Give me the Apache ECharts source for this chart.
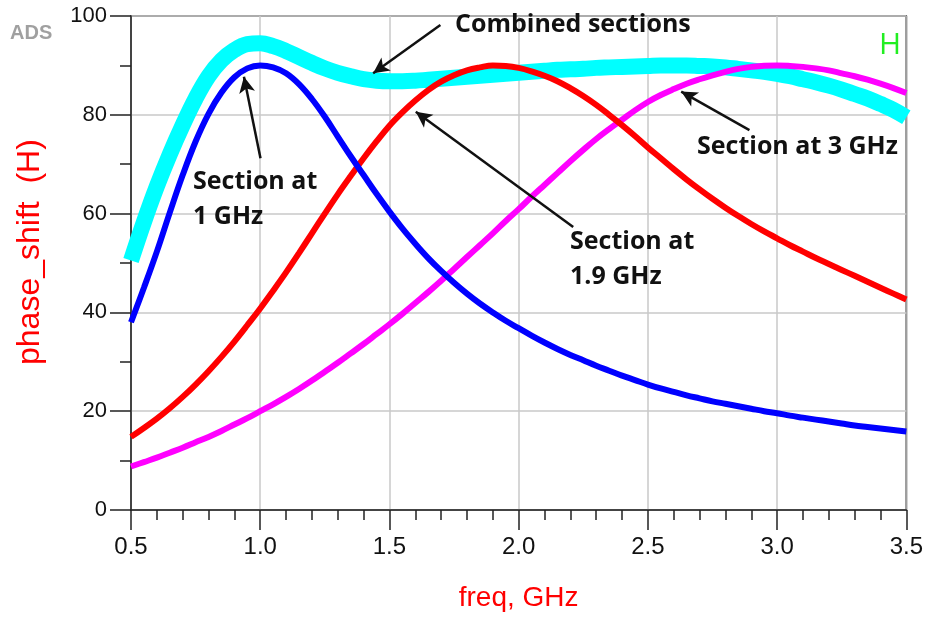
<!DOCTYPE html>
<html>
<head>
<meta charset="utf-8">
<script src="https://cdn.jsdelivr.net/npm/echarts@6/dist/echarts.min.js"></script>
<style>
  html, body { margin: 0; padding: 0; background: #fff; }
  #chart { width: 926px; height: 620px; }
</style>
</head>
<body>
<div id="chart"></div>
<script>
// frequency points, GHz
const freq = [0.5, 0.55, 0.6, 0.65, 0.7, 0.75, 0.8, 0.85, 0.9, 0.95,
  1.0, 1.05, 1.1, 1.15, 1.2, 1.25, 1.3, 1.35, 1.4, 1.45,
  1.5, 1.55, 1.6, 1.65, 1.7, 1.75, 1.8, 1.85, 1.9, 1.95,
  2.0, 2.05, 2.1, 2.15, 2.2, 2.25, 2.3, 2.35, 2.4, 2.45,
  2.5, 2.55, 2.6, 2.65, 2.7, 2.75, 2.8, 2.85, 2.9, 2.95,
  3.0, 3.05, 3.1, 3.15, 3.2, 3.25, 3.3, 3.35, 3.4, 3.45, 3.5];

// section at 1 GHz
const sec1 = [38, 45, 52.3, 60.2, 67.8, 74.6, 80.2, 84.5, 87.6, 89.4,
  90, 89.6, 88.4, 86.2, 83.2, 79.6, 75.6, 71.6, 67.8, 64.0,
  60.4, 57.0, 53.9, 51.0, 48.4, 46.0, 43.8, 41.8, 40.0, 38.3,
  36.8, 35.3, 33.9, 32.6, 31.4, 30.3, 29.2, 28.2, 27.2, 26.3,
  25.4, 24.6, 23.9, 23.2, 22.6, 22.0, 21.5, 21.0, 20.5, 20.0,
  19.6, 19.1, 18.7, 18.3, 17.9, 17.5, 17.1, 16.8, 16.5, 16.2, 15.9];

// section at 1.9 GHz
const sec19 = [14.8, 16.6, 18.5, 20.6, 22.9, 25.4, 28.1, 31.0, 34.1, 37.4,
  40.8, 44.4, 48.1, 52.0, 56.0, 60.0, 63.9, 67.6, 71.2, 74.6,
  77.8, 80.5, 82.9, 85.0, 86.7, 88.0, 89.0, 89.6, 90.0, 89.9,
  89.5, 88.8, 87.9, 86.8, 85.4, 83.8, 82.0, 80.0, 77.9, 75.7,
  73.4, 71.2, 69.0, 66.9, 64.9, 63.0, 61.2, 59.5, 57.9, 56.4,
  55.0, 53.6, 52.3, 51.0, 49.8, 48.6, 47.4, 46.2, 45.0, 43.8, 42.6];

// section at 3 GHz
const sec3 = [8.8, 9.7, 10.6, 11.6, 12.6, 13.7, 14.8, 16.0, 17.3, 18.6,
  20.0, 21.4, 22.9, 24.5, 26.2, 28.0, 29.8, 31.7, 33.6, 35.6,
  37.6, 39.7, 41.9, 44.1, 46.4, 48.8, 51.2, 53.6, 56.0, 58.5,
  60.9, 63.4, 65.8, 68.2, 70.6, 72.9, 75.1, 77.1, 79.0, 80.9,
  82.6, 84.0, 85.2, 86.3, 87.2, 88.0, 88.7, 89.3, 89.7, 89.95,
  90.0, 89.9, 89.7, 89.4, 89.0, 88.4, 87.8, 87.1, 86.3, 85.4, 84.4];

// combined sections
const combined = [50.5, 58.3, 65.5, 72.0, 77.9, 83.3, 87.8, 91.0, 93.1, 94.3,
  94.5, 93.9, 92.9, 91.7, 90.5, 89.4, 88.5, 87.8, 87.2, 86.9,
  86.8, 86.8, 86.9, 87.1, 87.3, 87.5, 87.7, 87.9, 88.1, 88.3,
  88.5, 88.7, 88.9, 89.1, 89.2, 89.3, 89.5, 89.6, 89.7, 89.8,
  89.9, 90.0, 90.0, 90.0, 89.9, 89.8, 89.6, 89.3, 89.0, 88.7,
  88.3, 87.8, 87.2, 86.6, 85.9, 85.1, 84.2, 83.3, 82.2, 81.0, 79.5];

// annotation arrows, tail -> head, in data units
const arrows = [
  [[1.697, 98.2], [1.437, 88.4]],
  [[1.001, 71.2], [0.937, 87.7]],
  [[2.211, 57.3], [1.602, 80.6]],
  [[2.893, 76.9], [2.629, 84.7]]
];

function pairs(ys) {
  return freq.map((f, i) => [f, ys[i]]);
}

const chart = echarts.init(document.getElementById('chart'));

const noteStyle = { fontFamily: 'Open Sans', fontSize: 25, fontWeight: 'bold', fill: '#111', verticalAlign: 'middle', lineHeight: 35 };

chart.setOption({
  animation: false,
  backgroundColor: '#fff',
  grid: {
    left: 131, right: 17, top: 16, bottom: 110,
    show: true, borderColor: '#222', borderWidth: 1.5
  },
  xAxis: {
    type: 'value',
    min: 0.5, max: 3.5, interval: 0.5,
    name: 'freq, GHz',
    nameLocation: 'middle',
    nameGap: 74,
    nameTextStyle: { color: '#ff0000', fontFamily: 'Liberation Sans', fontSize: 28 },
    axisLine: { lineStyle: { color: '#222', width: 1.5 } },
    axisTick: { length: 20, lineStyle: { color: '#222', width: 1.5 } },
    minorTick: { show: true, splitNumber: 5, length: 10, lineStyle: { color: '#222', width: 1.5 } },
    axisLabel: { margin: 25, fontFamily: 'Liberation Sans', fontSize: 24, color: '#111', formatter: v => v.toFixed(1) },
    splitLine: { lineStyle: { color: '#c8c8c8', width: 1.5 } }
  },
  yAxis: {
    type: 'value',
    min: 0, max: 100, interval: 20,
    axisLine: { lineStyle: { color: '#222', width: 1.5 } },
    axisTick: { length: 21, lineStyle: { color: '#222', width: 1.5 } },
    minorTick: { show: true, splitNumber: 2, length: 11, lineStyle: { color: '#222', width: 1.5 } },
    axisLabel: { margin: 24, fontFamily: 'Liberation Sans', fontSize: 22, color: '#111' },
    splitLine: { lineStyle: { color: '#c8c8c8', width: 1.5 } }
  },
  series: [
    {
      name: 'Combined sections', type: 'line', data: pairs(combined),
      symbol: 'none', smooth: 0.4, z: 2,
      lineStyle: { color: '#00ffff', width: 16, cap: 'butt' }
    },
    {
      name: 'Section at 3 GHz', type: 'line', data: pairs(sec3),
      symbol: 'none', smooth: 0.4, z: 3,
      lineStyle: { color: '#ff00ff', width: 6, cap: 'butt' }
    },
    {
      name: 'Section at 1.9 GHz', type: 'line', data: pairs(sec19),
      symbol: 'none', smooth: 0.4, z: 4,
      lineStyle: { color: '#ff0000', width: 6, cap: 'butt' }
    },
    {
      name: 'Section at 1 GHz', type: 'line', data: pairs(sec1),
      symbol: 'none', smooth: 0.4, z: 5,
      lineStyle: { color: '#0000ff', width: 6, cap: 'butt' },
      markLine: {
        silent: true,
        symbol: ['none', 'arrow'],
        symbolSize: [12, 16],
        label: { show: false },
        lineStyle: { color: '#111', width: 2.5, type: 'solid' },
        data: arrows.map(a => [{ coord: a[0] }, { coord: a[1] }])
      }
    }
  ],
  graphic: [
    // y axis title, drawn rotated so its bottom end sits like the original
    { type: 'text', x: 46, y: 365, rotation: Math.PI / 2, z: 10,
      style: { text: 'phase_shift  (H)', fontFamily: 'Liberation Sans', fontSize: 32, fill: '#ff0000', align: 'left', verticalAlign: 'bottom' } },
    { type: 'text', x: 10, y: 33, z: 10, style: { text: 'ADS', fontFamily: 'Liberation Sans', fontSize: 20, fontWeight: 'bold', fill: '#a0a0a0', verticalAlign: 'middle' } },
    { type: 'text', x: 879, y: 45, z: 10, style: { text: 'H', fontFamily: 'Open Sans', fontSize: 30, fill: '#22ee22', verticalAlign: 'middle' } },
    { type: 'text', x: 455, y: 25, z: 10, style: Object.assign({ text: 'Combined sections' }, noteStyle) },
    { type: 'text', x: 193, y: 199, z: 10, style: Object.assign({ text: 'Section at\n1 GHz' }, noteStyle) },
    { type: 'text', x: 697, y: 147, z: 10, style: Object.assign({ text: 'Section at 3 GHz' }, noteStyle) },
    { type: 'text', x: 570, y: 259, z: 10, style: Object.assign({ text: 'Section at\n1.9 GHz' }, noteStyle) }
  ]
});
</script>
</body>
</html>
